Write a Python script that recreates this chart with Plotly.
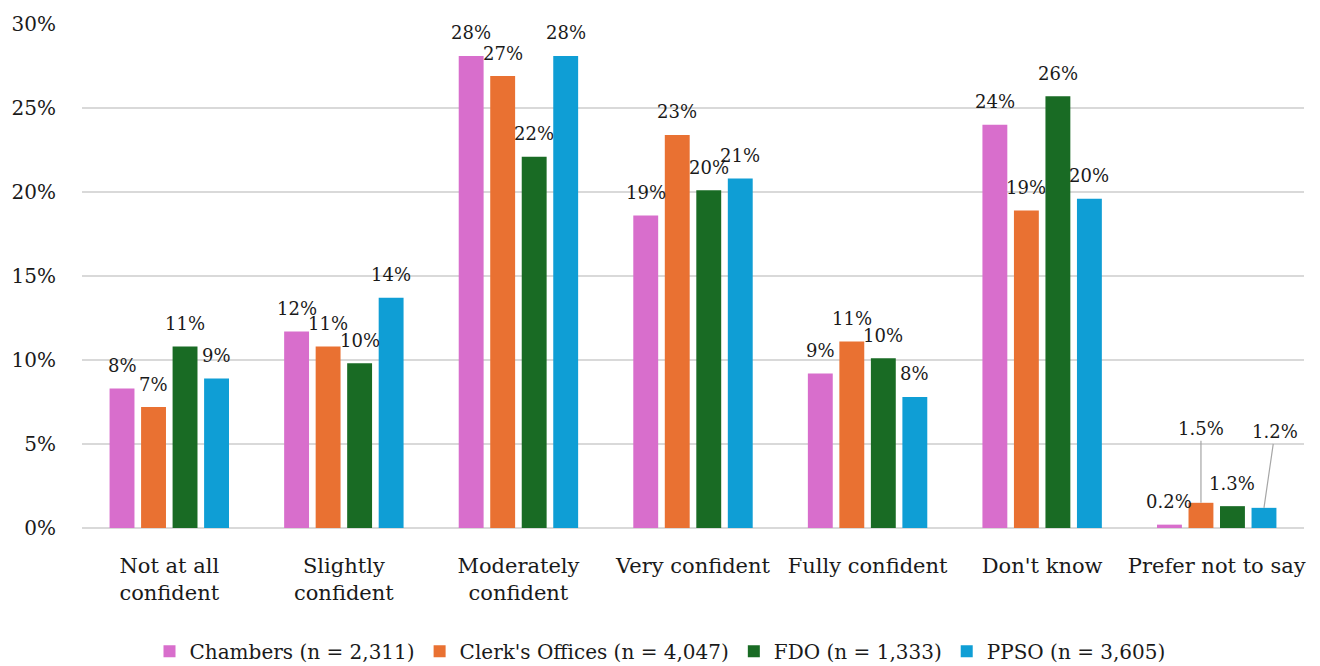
import plotly.graph_objects as go

categories = ["Not at all<br>confident", "Slightly<br>confident", "Moderately<br>confident",
              "Very confident", "Fully confident", "Don't know", "Prefer not to say"]

series_names = ["Chambers (n = 2,311)", "Clerk's Offices (n = 4,047)",
                "FDO (n = 1,333)", "PPSO (n = 3,605)"]

chambers = [8.3, 11.7, 28.1, 18.6, 9.2, 24.0, 0.2]
clerks = [7.2, 10.8, 26.9, 23.4, 11.1, 18.9, 1.5]
fdo = [10.8, 9.8, 22.1, 20.1, 10.1, 25.7, 1.3]
ppso = [8.9, 13.7, 28.1, 20.8, 7.8, 19.6, 1.2]

colors = ["#D86ECC", "#E97132", "#196B24", "#0F9ED5"]

FONT = "DejaVu Serif"
BARGAP = 0.278
GROUPGAP = 0.21

series = [chambers, clerks, fdo, ppso]
x_idx = list(range(len(categories)))

fig = go.Figure()
for name, vals, col in zip(series_names, series, colors):
    fig.add_trace(go.Bar(
        x=x_idx, y=vals, name=name,
        marker=dict(color=col, line=dict(width=0)),
        hoverinfo="skip",
    ))


def label(v, decimals):
    return f"{v:.{decimals}f}%"


# value labels above each bar, placed at the grouped bar centres
n = len(series)
slot = (1 - BARGAP) / n
last = len(categories) - 1
leader = {1: (0, -74), 3: (11, -76)}  # trace index -> (ax, ay) in the last group
for i, vals in enumerate(series):
    off = (i - (n - 1) / 2) * slot
    for j, v in enumerate(vals):
        dec = 1 if j == last else 0
        xpos = j + off
        if j == last and i in leader:
            ax, ay = leader[i]
            fig.add_annotation(
                x=xpos, y=v, text=label(v, dec), showarrow=True,
                arrowhead=0, arrowwidth=1.2, arrowcolor="#A6A6A6",
                ax=ax, ay=ay, standoff=0,
                font=dict(family=FONT, size=18, color="#1a1a1a"),
            )
        else:
            fig.add_annotation(
                x=xpos, y=v, text=label(v, dec), showarrow=False,
                yshift=23, yanchor="middle",
                font=dict(family=FONT, size=18, color="#1a1a1a"),
            )

fig.update_layout(
    width=1320, height=666,
    margin=dict(l=80, r=16, t=20, b=138),
    barmode="group", bargap=BARGAP, bargroupgap=GROUPGAP,
    plot_bgcolor="white", paper_bgcolor="white",
    font=dict(family=FONT, size=20, color="#1a1a1a"),
    legend=dict(
        orientation="h", xref="container", yref="container",
        x=0.5, xanchor="center", y=0.022, yanchor="middle",
        font=dict(family=FONT, size=20), traceorder="normal",
        itemwidth=30,
    ),
)
fig.update_xaxes(
    range=[-0.5, len(categories) - 0.5],
    tickmode="array", tickvals=x_idx, ticktext=categories,
    tickfont=dict(family=FONT, size=21),
    showgrid=False, zeroline=False, showline=False, ticks="",
    ticklabelstandoff=23, tickangle=0,
)
fig.update_yaxes(
    range=[0, 30], dtick=5, ticksuffix="%",
    showgrid=True, gridcolor="#D9D9D9", gridwidth=1.5,
    zeroline=True, zerolinecolor="#D9D9D9", zerolinewidth=1.5,
    showline=False, ticks="", ticklabelstandoff=25,
)

fig.write_html("out.html")
